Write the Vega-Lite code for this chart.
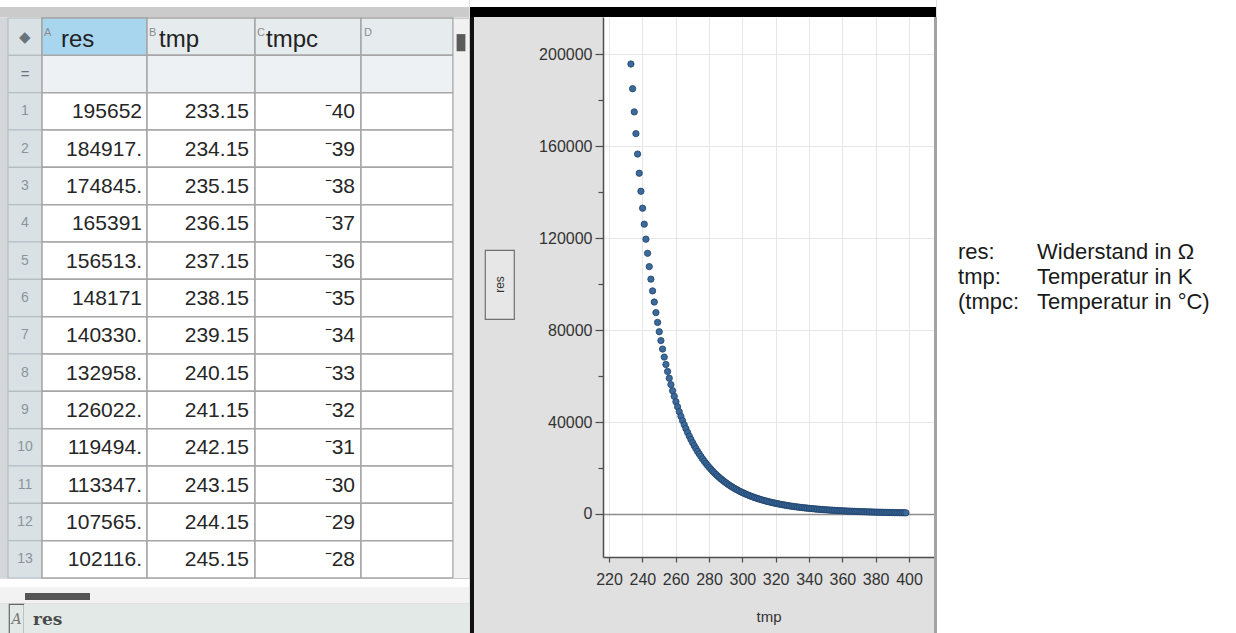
{
"$schema": "https://vega.github.io/schema/vega-lite/v6.json",
"background": "#e0e0e0",
"padding": 0,
"autosize": {"type": "pad"},
"spacing": 0,
"config": {"view": {"stroke": null}, "concat": {"spacing": 0}, "font": "Liberation Sans"},
"datasets": {
"cells": [{"r":"h","k":"h"},{"r":"e","k":"e"},{"r":"1","k":"d"},{"r":"2","k":"d"},{"r":"3","k":"d"},{"r":"4","k":"d"},{"r":"5","k":"d"},{"r":"6","k":"d"},{"r":"7","k":"d"},{"r":"8","k":"d"},{"r":"9","k":"d"},{"r":"10","k":"d"},{"r":"11","k":"d"},{"r":"12","k":"d"},{"r":"13","k":"d"}],
"hdr": [{"r":"h","col":"A","name":"res"},{"r":"h","col":"B","name":"tmp"},{"r":"h","col":"C","name":"tmpc"},{"r":"h","col":"D","name":""}],
"rows": [
{"r":"1","res":"195652","tmp":"233.15","tmpc":"⁻40"},
{"r":"2","res":"184917.","tmp":"234.15","tmpc":"⁻39"},
{"r":"3","res":"174845.","tmp":"235.15","tmpc":"⁻38"},
{"r":"4","res":"165391","tmp":"236.15","tmpc":"⁻37"},
{"r":"5","res":"156513.","tmp":"237.15","tmpc":"⁻36"},
{"r":"6","res":"148171","tmp":"238.15","tmpc":"⁻35"},
{"r":"7","res":"140330.","tmp":"239.15","tmpc":"⁻34"},
{"r":"8","res":"132958.","tmp":"240.15","tmpc":"⁻33"},
{"r":"9","res":"126022.","tmp":"241.15","tmpc":"⁻32"},
{"r":"10","res":"119494.","tmp":"242.15","tmpc":"⁻31"},
{"r":"11","res":"113347.","tmp":"243.15","tmpc":"⁻30"},
{"r":"12","res":"107565.","tmp":"244.15","tmpc":"⁻29"},
{"r":"13","res":"102116.","tmp":"245.15","tmpc":"⁻28"}],
"notes": [{"line":1,"col":0,"t":"res:"},{"line":1,"col":1,"t":"Widerstand in Ω"},{"line":2,"col":0,"t":"tmp:"},{"line":2,"col":1,"t":"Temperatur in K"},{"line":3,"col":0,"t":"(tmpc:"},{"line":3,"col":1,"t":"Temperatur in °C)"}],
"pts": [
{"tmp":233.15,"res":195652},{"tmp":234.15,"res":184917},{"tmp":235.15,"res":174845},{"tmp":236.15,"res":165391},{"tmp":237.15,"res":156513},{"tmp":238.15,"res":148171},{"tmp":239.15,"res":140330},{"tmp":240.15,"res":132958},{"tmp":241.15,"res":126022},{"tmp":242.15,"res":119494},
{"tmp":243.15,"res":113347},{"tmp":244.15,"res":107565},{"tmp":245.15,"res":102116},{"tmp":246.15,"res":97012},{"tmp":247.15,"res":92164},{"tmp":248.15,"res":87558},{"tmp":249.15,"res":83297},{"tmp":250.15,"res":79244},{"tmp":251.15,"res":75388},{"tmp":252.15,"res":71720},
{"tmp":253.15,"res":68229},{"tmp":254.15,"res":65016},{"tmp":255.15,"res":61954},{"tmp":256.15,"res":59037},{"tmp":257.15,"res":56257},{"tmp":258.15,"res":53610},{"tmp":259.15,"res":51166},{"tmp":260.15,"res":48833},{"tmp":261.15,"res":46607},{"tmp":262.15,"res":44482},
{"tmp":263.15,"res":42455},{"tmp":264.15,"res":40580},{"tmp":265.15,"res":38788},{"tmp":266.15,"res":37075},{"tmp":267.15,"res":35438},{"tmp":268.15,"res":33874},{"tmp":269.15,"res":32423},{"tmp":270.15,"res":31034},{"tmp":271.15,"res":29705},{"tmp":272.15,"res":28433},
{"tmp":273.15,"res":27216},{"tmp":274.15,"res":26085},{"tmp":275.15,"res":25001},{"tmp":276.15,"res":23962},{"tmp":277.15,"res":22966},{"tmp":278.15,"res":22013},{"tmp":279.15,"res":21125},{"tmp":280.15,"res":20273},{"tmp":281.15,"res":19455},{"tmp":282.15,"res":18670},
{"tmp":283.15,"res":17917},{"tmp":284.15,"res":17214},{"tmp":285.15,"res":16539},{"tmp":286.15,"res":15891},{"tmp":287.15,"res":15268},{"tmp":288.15,"res":14669},{"tmp":289.15,"res":14110},{"tmp":290.15,"res":13572},{"tmp":291.15,"res":13055},{"tmp":292.15,"res":12557},
{"tmp":293.15,"res":12079},{"tmp":294.15,"res":11631},{"tmp":295.15,"res":11200},{"tmp":296.15,"res":10785},{"tmp":297.15,"res":10385},{"tmp":298.15,"res":10000},{"tmp":299.15,"res":9639},{"tmp":300.15,"res":9291},{"tmp":301.15,"res":8956},{"tmp":302.15,"res":8633},
{"tmp":303.15,"res":8321},{"tmp":304.15,"res":8028},{"tmp":305.15,"res":7746},{"tmp":306.15,"res":7473},{"tmp":307.15,"res":7210},{"tmp":308.15,"res":6957},{"tmp":309.15,"res":6719},{"tmp":310.15,"res":6488},{"tmp":311.15,"res":6266},{"tmp":312.15,"res":6051},
{"tmp":313.15,"res":5844},{"tmp":314.15,"res":5649},{"tmp":315.15,"res":5460},{"tmp":316.15,"res":5278},{"tmp":317.15,"res":5102},{"tmp":318.15,"res":4931},{"tmp":319.15,"res":4770},{"tmp":320.15,"res":4615},{"tmp":321.15,"res":4464},{"tmp":322.15,"res":4319},
{"tmp":323.15,"res":4178},{"tmp":324.15,"res":4045},{"tmp":325.15,"res":3916},{"tmp":326.15,"res":3791},{"tmp":327.15,"res":3671},{"tmp":328.15,"res":3554},{"tmp":329.15,"res":3444},{"tmp":330.15,"res":3337},{"tmp":331.15,"res":3233},{"tmp":332.15,"res":3132},
{"tmp":333.15,"res":3035},{"tmp":334.15,"res":2943},{"tmp":335.15,"res":2853},{"tmp":336.15,"res":2767},{"tmp":337.15,"res":2683},{"tmp":338.15,"res":2601},{"tmp":339.15,"res":2524},{"tmp":340.15,"res":2449},{"tmp":341.15,"res":2376},{"tmp":342.15,"res":2305},
{"tmp":343.15,"res":2237},{"tmp":344.15,"res":2172},{"tmp":345.15,"res":2109},{"tmp":346.15,"res":2048},{"tmp":347.15,"res":1989},{"tmp":348.15,"res":1931},{"tmp":349.15,"res":1876},{"tmp":350.15,"res":1823},{"tmp":351.15,"res":1771},{"tmp":352.15,"res":1720},
{"tmp":353.15,"res":1671},{"tmp":354.15,"res":1624},{"tmp":355.15,"res":1579},{"tmp":356.15,"res":1535},{"tmp":357.15,"res":1492},{"tmp":358.15,"res":1451},{"tmp":359.15,"res":1412},{"tmp":360.15,"res":1373},{"tmp":361.15,"res":1336},{"tmp":362.15,"res":1299},
{"tmp":363.15,"res":1264},{"tmp":364.15,"res":1230},{"tmp":365.15,"res":1197},{"tmp":366.15,"res":1166},{"tmp":367.15,"res":1135},{"tmp":368.15,"res":1104},{"tmp":369.15,"res":1075},{"tmp":370.15,"res":1047},{"tmp":371.15,"res":1020},{"tmp":372.15,"res":993},
{"tmp":373.15,"res":967},{"tmp":374.15,"res":942},{"tmp":375.15,"res":918},{"tmp":376.15,"res":894},{"tmp":377.15,"res":871},{"tmp":378.15,"res":849},{"tmp":379.15,"res":828},{"tmp":380.15,"res":807},{"tmp":381.15,"res":786},{"tmp":382.15,"res":766},
{"tmp":383.15,"res":747},{"tmp":384.15,"res":728},{"tmp":385.15,"res":710},{"tmp":386.15,"res":693},{"tmp":387.15,"res":676},{"tmp":388.15,"res":659},{"tmp":389.15,"res":643},{"tmp":390.15,"res":628},{"tmp":391.15,"res":612},{"tmp":392.15,"res":598},
{"tmp":393.15,"res":583},{"tmp":394.15,"res":569},{"tmp":395.15,"res":556},{"tmp":396.15,"res":542},{"tmp":397.15,"res":529},{"tmp":398.15,"res":517}]
},
"hconcat": [
{"spacing": 0, "vconcat": [
  {"width":469,"height":7,"view":{"fill":"#ffffff"},"data":{"values":[]},"mark":{"type":"text","text":""},"encoding":{}},
  {"width":469,"height":10,"view":{"fill":"#cbcbcb"},"data":{"values":[]},"mark":{"type":"text","text":""},"encoding":{}},
  {"spacing": 0, "bounds": "flush", "hconcat": [
    {"width":8,"height":560,"view":{"fill":"#d3d7d9"},"data":{"values":[]},"mark":{"type":"text","text":""},"encoding":{}},
    {"width":34,"height":560,
     "encoding":{"y":{"field":"r","type":"nominal","scale":{"type":"band","domain":["h","e","1","2","3","4","5","6","7","8","9","10","11","12","13"],"paddingInner":0,"paddingOuter":0},"axis":null},
                 "x":{"datum":"N","type":"nominal","scale":{"type":"band","paddingInner":0,"paddingOuter":0},"axis":null}},
     "layer":[
       {"data":{"name":"cells"},"mark":{"type":"rect","fill":"#d9e1e5","stroke":"#b4bec3","strokeWidth":1.2}},
       {"data":{"name":"rows"},"mark":{"type":"text","fontSize":14,"color":"#8a959b"},"encoding":{"text":{"field":"r"}}},
       {"data":{"values":[{"r":"e","s":"="},{"r":"h","s":"◆"}]},"mark":{"type":"text","fontSize":15,"color":"#68747a"},"encoding":{"text":{"field":"s"}}}
     ]},
    {"width":105,"height":560,
     "encoding":{"y":{"field":"r","type":"nominal","scale":{"type":"band","domain":["h","e","1","2","3","4","5","6","7","8","9","10","11","12","13"],"paddingInner":0,"paddingOuter":0},"axis":null},
                 "x":{"datum":"A","type":"nominal","scale":{"type":"band","paddingInner":0,"paddingOuter":0},"axis":null}},
     "layer":[
       {"data":{"name":"cells"},"mark":{"type":"rect","stroke":"#a6a6a6","strokeWidth":1.5},"encoding":{"fill":{"field":"k","type":"nominal","scale":{"domain":["h","e","d"],"range":["#e6ebee","#eef1f3","#ffffff"]},"legend":null}}},
       {"data":{"name":"hdr"},"transform":[{"filter":"datum.col==='A'"}],"mark":{"type":"rect","fill":"#a8d6ef","stroke":"#a6a6a6","strokeWidth":1.5}},
       {"data":{"name":"hdr"},"transform":[{"filter":"datum.col==='A'"}],"mark":{"type":"text","align":"left","baseline":"top","fontSize":11,"color":"#8c8c8c","dx":2,"dy":-10},"encoding":{"x":{"datum":"A","type":"nominal","scale":{"type":"band","paddingInner":0,"paddingOuter":0},"axis":null,"bandPosition":0},"text":{"field":"col"}}},
       {"data":{"name":"hdr"},"transform":[{"filter":"datum.col==='A'"}],"mark":{"type":"text","align":"left","baseline":"middle","fontSize":24,"color":"#222222","dx":19,"dy":3},"encoding":{"x":{"datum":"A","type":"nominal","scale":{"type":"band","paddingInner":0,"paddingOuter":0},"axis":null,"bandPosition":0},"text":{"field":"name"}}},
       {"data":{"name":"rows"},"mark":{"type":"text","align":"right","baseline":"middle","fontSize":21,"color":"#262626","dx":-5,"dy":1},"encoding":{"x":{"datum":"A","type":"nominal","scale":{"type":"band","paddingInner":0,"paddingOuter":0},"axis":null,"bandPosition":1},"text":{"field":"res"}}}
     ]},
    {"width":108,"height":560,
     "encoding":{"y":{"field":"r","type":"nominal","scale":{"type":"band","domain":["h","e","1","2","3","4","5","6","7","8","9","10","11","12","13"],"paddingInner":0,"paddingOuter":0},"axis":null},
                 "x":{"datum":"B","type":"nominal","scale":{"type":"band","paddingInner":0,"paddingOuter":0},"axis":null}},
     "layer":[
       {"data":{"name":"cells"},"mark":{"type":"rect","stroke":"#a6a6a6","strokeWidth":1.5},"encoding":{"fill":{"field":"k","type":"nominal","scale":{"domain":["h","e","d"],"range":["#e6ebee","#eef1f3","#ffffff"]},"legend":null}}},
       {"data":{"name":"hdr"},"transform":[{"filter":"datum.col==='B'"}],"mark":{"type":"text","align":"left","baseline":"top","fontSize":11,"color":"#8c8c8c","dx":2,"dy":-10},"encoding":{"x":{"datum":"B","type":"nominal","scale":{"type":"band","paddingInner":0,"paddingOuter":0},"axis":null,"bandPosition":0},"text":{"field":"col"}}},
       {"data":{"name":"hdr"},"transform":[{"filter":"datum.col==='B'"}],"mark":{"type":"text","align":"left","baseline":"middle","fontSize":24,"color":"#222222","dx":12,"dy":3},"encoding":{"x":{"datum":"B","type":"nominal","scale":{"type":"band","paddingInner":0,"paddingOuter":0},"axis":null,"bandPosition":0},"text":{"field":"name"}}},
       {"data":{"name":"rows"},"mark":{"type":"text","align":"right","baseline":"middle","fontSize":21,"color":"#262626","dx":-6,"dy":1},"encoding":{"x":{"datum":"B","type":"nominal","scale":{"type":"band","paddingInner":0,"paddingOuter":0},"axis":null,"bandPosition":1},"text":{"field":"tmp"}}}
     ]},
    {"width":106,"height":560,
     "encoding":{"y":{"field":"r","type":"nominal","scale":{"type":"band","domain":["h","e","1","2","3","4","5","6","7","8","9","10","11","12","13"],"paddingInner":0,"paddingOuter":0},"axis":null},
                 "x":{"datum":"C","type":"nominal","scale":{"type":"band","paddingInner":0,"paddingOuter":0},"axis":null}},
     "layer":[
       {"data":{"name":"cells"},"mark":{"type":"rect","stroke":"#a6a6a6","strokeWidth":1.5},"encoding":{"fill":{"field":"k","type":"nominal","scale":{"domain":["h","e","d"],"range":["#e6ebee","#eef1f3","#ffffff"]},"legend":null}}},
       {"data":{"name":"hdr"},"transform":[{"filter":"datum.col==='C'"}],"mark":{"type":"text","align":"left","baseline":"top","fontSize":11,"color":"#8c8c8c","dx":2,"dy":-10},"encoding":{"x":{"datum":"C","type":"nominal","scale":{"type":"band","paddingInner":0,"paddingOuter":0},"axis":null,"bandPosition":0},"text":{"field":"col"}}},
       {"data":{"name":"hdr"},"transform":[{"filter":"datum.col==='C'"}],"mark":{"type":"text","align":"left","baseline":"middle","fontSize":24,"color":"#222222","dx":11,"dy":3},"encoding":{"x":{"datum":"C","type":"nominal","scale":{"type":"band","paddingInner":0,"paddingOuter":0},"axis":null,"bandPosition":0},"text":{"field":"name"}}},
       {"data":{"name":"rows"},"mark":{"type":"text","align":"right","baseline":"middle","fontSize":21,"color":"#262626","dx":-6,"dy":1},"encoding":{"x":{"datum":"C","type":"nominal","scale":{"type":"band","paddingInner":0,"paddingOuter":0},"axis":null,"bandPosition":1},"text":{"field":"tmpc"}}}
     ]},
    {"width":92,"height":560,
     "encoding":{"y":{"field":"r","type":"nominal","scale":{"type":"band","domain":["h","e","1","2","3","4","5","6","7","8","9","10","11","12","13"],"paddingInner":0,"paddingOuter":0},"axis":null},
                 "x":{"datum":"D","type":"nominal","scale":{"type":"band","paddingInner":0,"paddingOuter":0},"axis":null}},
     "layer":[
       {"data":{"name":"cells"},"mark":{"type":"rect","stroke":"#a6a6a6","strokeWidth":1.5},"encoding":{"fill":{"field":"k","type":"nominal","scale":{"domain":["h","e","d"],"range":["#e6ebee","#eef1f3","#ffffff"]},"legend":null}}},
       {"data":{"name":"hdr"},"transform":[{"filter":"datum.col==='D'"}],"mark":{"type":"text","align":"left","baseline":"top","fontSize":11,"color":"#8c8c8c","dx":3,"dy":-10},"encoding":{"x":{"datum":"D","type":"nominal","scale":{"type":"band","paddingInner":0,"paddingOuter":0},"axis":null,"bandPosition":0},"text":{"field":"col"}}}
     ]},
    {"width":16,"height":560,"view":{"fill":"#f1f1f1","stroke":"#c9c9c9"},
     "encoding":{"y":{"field":"r","type":"nominal","scale":{"type":"band","domain":["h","e","1","2","3","4","5","6","7","8","9","10","11","12","13"],"paddingInner":0,"paddingOuter":0},"axis":null},
                 "x":{"datum":"S","type":"nominal","scale":{"type":"band","paddingInner":0,"paddingOuter":0},"axis":null}},
     "data":{"values":[{"r":"h"}]},
     "mark":{"type":"rect","fill":"#5b5b5b","width":{"band":0.55},"height":{"band":0.46},"yOffset":6}}
  ]},
  {"width":469,"height":8,"view":{"fill":"#ffffff"},"data":{"values":[]},"mark":{"type":"text","text":""},"encoding":{}},
  {"spacing": 0, "hconcat": [
    {"width":25,"height":16,"view":{"fill":"#f2f2f2"},"data":{"values":[]},"mark":{"type":"text","text":""},"encoding":{}},
    {"spacing": 0, "vconcat": [
      {"width":65,"height":6,"view":{"fill":"#f2f2f2"},"data":{"values":[]},"mark":{"type":"text","text":""},"encoding":{}},
      {"width":65,"height":7,"view":{"fill":"#555555"},"data":{"values":[]},"mark":{"type":"text","text":""},"encoding":{}},
      {"width":65,"height":3,"view":{"fill":"#f2f2f2"},"data":{"values":[]},"mark":{"type":"text","text":""},"encoding":{}}
    ]},
    {"width":379,"height":16,"view":{"fill":"#f2f2f2"},"data":{"values":[]},"mark":{"type":"text","text":""},"encoding":{}}
  ]},
  {"spacing": 0, "bounds": "flush", "hconcat": [
    {"width":9,"height":32,"view":{"fill":"#e2e9e7"},"data":{"values":[]},"mark":{"type":"text","text":""},"encoding":{}},
    {"width":15,"height":32,"view":{"fill":"#e2e9e7","stroke":"#666666","strokeWidth":1.2},"data":{"values":[{}]},"mark":{"type":"text","text":"A","font":"DejaVu Serif","fontStyle":"italic","fontSize":14,"color":"#777777"},"encoding":{}},
    {"width":9,"height":32,"view":{"fill":"#e2e9e7"},"data":{"values":[]},"mark":{"type":"text","text":""},"encoding":{}},
    {"width":436,"height":32,"view":{"fill":"#e2e9e7"},"data":{"values":[{}]},"mark":{"type":"text","text":"res","align":"left","font":"DejaVu Serif","fontWeight":"bold","fontSize":17,"color":"#4a4a4a"},"encoding":{"x":{"datum":"a","type":"nominal","scale":{"type":"band","paddingInner":0,"paddingOuter":0},"axis":null,"bandPosition":0}}}
  ]}
]},
{"spacing": 0, "vconcat": [
  {"width":466,"height":7,"view":{"fill":"#ffffff"},"data":{"values":[]},"mark":{"type":"text","text":""},"encoding":{}},
  {"width":466,"height":10,"view":{"fill":"#000000"},"data":{"values":[]},"mark":{"type":"text","text":""},"encoding":{}},
  {"spacing": 0, "hconcat": [
    {"width":4,"height":616,"view":{"fill":"#111111"},"data":{"values":[]},"mark":{"type":"text","text":""},"encoding":{}},
    {"spacing": 0, "vconcat": [
      {"width":64,"height":232,"data":{"values":[]},"mark":{"type":"text","text":""},"encoding":{}},
      {"spacing": 0, "hconcat": [
        {"width":10,"height":69,"data":{"values":[]},"mark":{"type":"text","text":""},"encoding":{}},
        {"width":29,"height":69,"view":{"fill":"#e7e7e7","stroke":"#707070","strokeWidth":1.2},"data":{"values":[{}]},"mark":{"type":"text","text":"res","angle":270,"fontSize":12,"color":"#333333"},"encoding":{}}
      ]}
    ]},
    {"width":331,"height":540,"view":{"fill":"#ffffff"},
     "data":{"name":"pts"},
     "mark":{"type":"circle","size":40,"color":"#3b6a9b","opacity":1,"stroke":"#1f416b","strokeWidth":0.8},
     "encoding":{
       "x":{"field":"tmp","type":"quantitative","scale":{"domain":[216.4,415],"nice":false,"zero":false},
            "axis":{"title":"tmp","values":[220,240,260,280,300,320,340,360,380,400],"format":"d","grid":true,"gridColor":"#e6e6e6","gridWidth":1,
                    "domainColor":"#4d4d4d","domainWidth":1.5,"tickColor":"#4d4d4d","tickSize":5,"tickWidth":1.2,
                    "labelFontSize":16,"labelColor":"#333333","labelPadding":9,"labelFlush":false,"labelOverlap":false,
                    "titleFontSize":15,"titleFontWeight":"normal","titleColor":"#333333","titlePadding":22}},
       "y":{"field":"res","type":"quantitative","scale":{"domain":[-18700,216100],"nice":false,"zero":false},
            "axis":{"title":null,"values":[0,20000,40000,60000,80000,100000,120000,140000,160000,180000,200000],"format":"d",
                    "labelExpr":"datum.value % 40000 === 0 ? datum.label : ''",
                    "grid":true,
                    "gridColor":{"condition":{"test":"datum.value === 0","value":"#8c8c8c"},"value":"#e6e6e6"},
                    "gridWidth":{"condition":{"test":"datum.value === 0","value":1.6},"value":1},
                    "gridOpacity":{"condition":{"test":"datum.value % 40000 === 0","value":1},"value":0},
                    "tickSize":{"condition":{"test":"datum.value % 40000 === 0","value":8},"value":5},
                    "domainColor":"#4d4d4d","domainWidth":1.5,"tickColor":"#4d4d4d","tickWidth":1.2,
                    "labelFontSize":16,"labelColor":"#333333","labelPadding":3,"labelOverlap":false}}
     }},
    {"width":3,"height":616,"view":{"fill":"#a3a3a3"},"data":{"values":[]},"mark":{"type":"text","text":""},"encoding":{}}
  ]}
]},
{"width":301,"height":633,"view":{"fill":"#ffffff"},
 "data":{"name":"notes"},
 "mark":{"type":"text","align":"left","baseline":"alphabetic","fontSize":22,"color":"#1a1a1a"},
 "encoding":{
   "x":{"field":"col","type":"quantitative","scale":{"domain":[-0.266,3.544],"nice":false,"zero":false},"axis":null},
   "y":{"field":"line","type":"quantitative","scale":{"domain":[-9.36,15.96],"nice":false,"zero":false,"reverse":true},"axis":null},
   "text":{"field":"t"}
 }}
]
}
